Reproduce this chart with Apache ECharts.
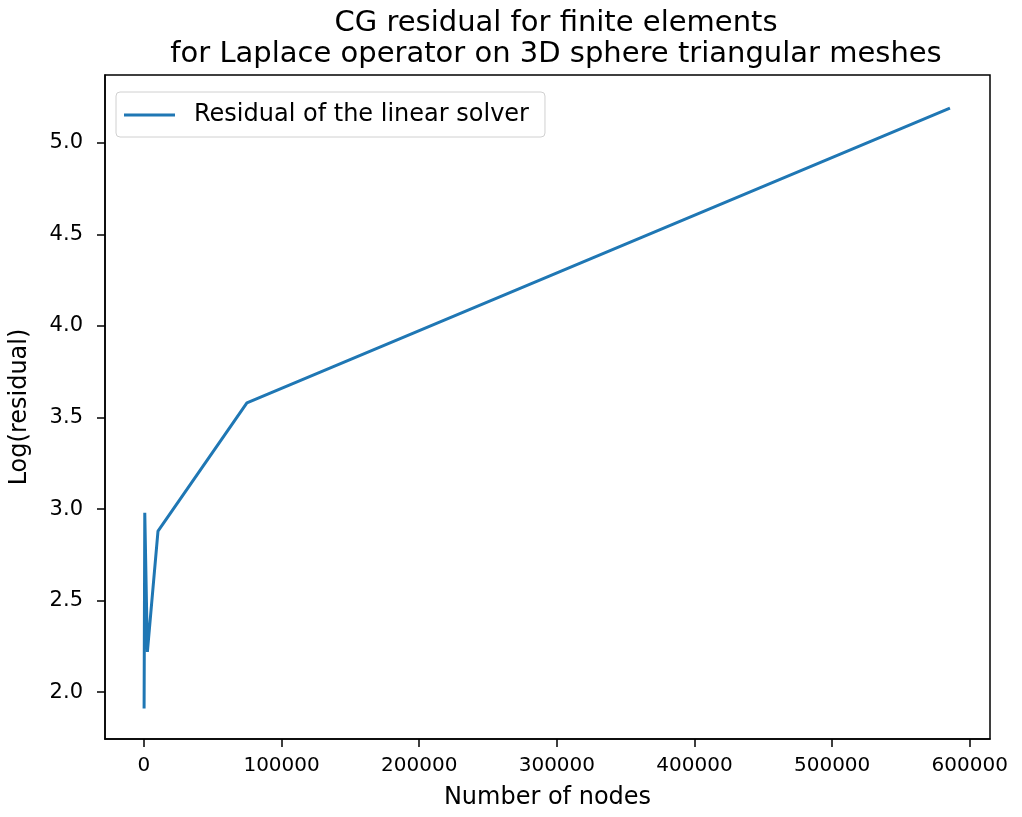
<!DOCTYPE html>
<html>
<head>
<meta charset="utf-8">
<script src="https://cdn.jsdelivr.net/npm/echarts@6/dist/echarts.min.js"></script>
<style>
  html, body { margin: 0; padding: 0; background: #fff; }
  #chart { width: 1022px; height: 817px; }
</style>
</head>
<body>
<div id="chart"></div>
<script>
// data
const nodes = [100, 600, 2500, 10200, 74800, 585600]
const logResidual = [1.91, 2.98, 2.22, 2.88, 3.58, 5.19]
const xTicks = [0, 100000, 200000, 300000, 400000, 500000, 600000]
const yTicks = [2.0, 2.5, 3.0, 3.5, 4.0, 4.5, 5.0]

const font = 'DejaVu Sans'

const chart = echarts.init(document.getElementById('chart'))

chart.setOption({
  animation: false,
  title: {
    text: 'CG residual for finite elements\nfor Laplace operator on 3D sphere triangular meshes',
    left: 551,
    top: 3,
    textAlign: 'center',
    textStyle: {
      fontFamily: font,
      fontSize: 29,
      fontWeight: 'normal',
      color: '#000',
      lineHeight: 31
    }
  },
  legend: {
    left: 116,
    top: 92,
    padding: [11, 16, 10, 8],
    icon: 'rect',
    itemWidth: 51,
    itemHeight: 3,
    borderColor: '#d0d0d0',
    borderWidth: 1,
    borderRadius: 4,
    textStyle: { fontFamily: font, fontSize: 24, color: '#000', padding: [0, 0, 0, 14] },
    data: ['Residual of the linear solver']
  },
  grid: {
    left: 104,
    right: 32,
    top: 75,
    bottom: 78,
    show: true,
    borderColor: '#000',
    borderWidth: 1.5
  },
  xAxis: {
    type: 'value',
    min: -28300,
    max: 614700,
    name: 'Number of nodes',
    nameLocation: 'middle',
    nameGap: 47,
    nameTextStyle: { fontFamily: font, fontSize: 24, color: '#000' },
    axisLine: { onZero: false, lineStyle: { color: '#000', width: 1.5 } },
    axisTick: { show: true, length: 8, lineStyle: { color: '#000', width: 1.5 }, customValues: xTicks },
    axisLabel: {
      fontFamily: font, fontSize: 20, color: '#000', margin: 17,
      customValues: xTicks,
      formatter: v => String(v)
    },
    splitLine: { show: false }
  },
  yAxis: {
    type: 'value',
    min: 1.744,
    max: 5.371,
    name: 'Log(residual)',
    nameLocation: 'middle',
    nameGap: 73,
    nameTextStyle: { fontFamily: font, fontSize: 24, color: '#000' },
    axisLine: { show: true, onZero: false, lineStyle: { color: '#000', width: 1.5 } },
    axisTick: { show: true, length: 8, lineStyle: { color: '#000', width: 1.5 }, customValues: yTicks },
    axisLabel: {
      fontFamily: font, fontSize: 21, color: '#000', margin: 22,
      customValues: yTicks,
      formatter: v => v.toFixed(1)
    },
    splitLine: { show: false }
  },
  series: [{
    name: 'Residual of the linear solver',
    type: 'line',
    symbol: 'none',
    data: nodes.map((n, i) => [n, logResidual[i]]),
    lineStyle: { color: '#1f77b4', width: 3 },
    itemStyle: { color: '#1f77b4' }
  }]
})
</script>
</body>
</html>
